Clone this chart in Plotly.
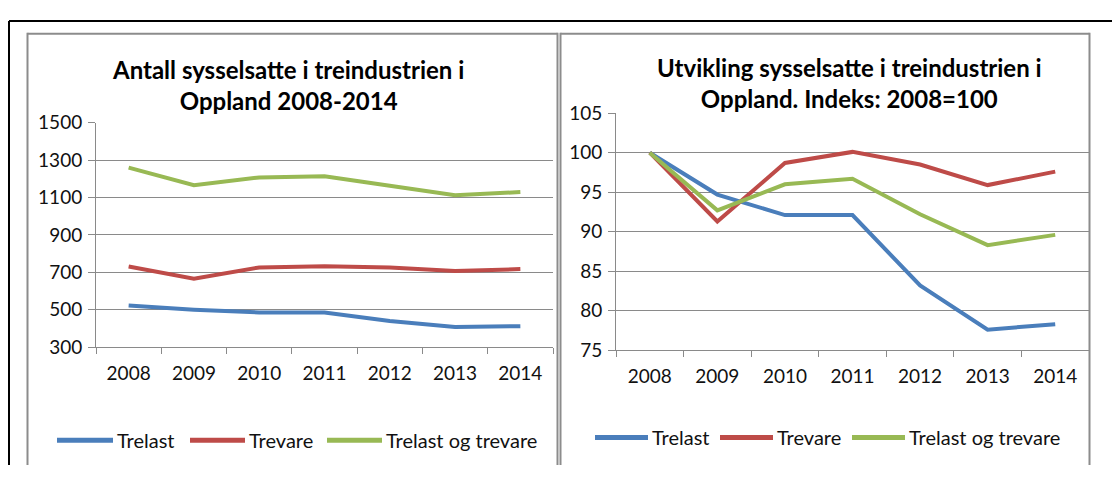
import plotly.graph_objects as go

# ---------------- data ----------------
years = ["2008", "2009", "2010", "2011", "2012", "2013", "2014"]
series_names = ["Trelast", "Trevare", "Trelast og trevare"]

count_trelast = [522, 500, 485, 485, 440, 407, 412]
count_trevare = [731, 666, 726, 732, 726, 707, 717]
count_total = [1260, 1166, 1207, 1214, 1163, 1112, 1129]

index_trelast = [100, 94.7, 92.1, 92.1, 83.2, 77.6, 78.3]
index_trevare = [100, 91.3, 98.7, 100.1, 98.5, 95.9, 97.6]
index_total = [100, 92.7, 96.0, 96.7, 92.2, 88.3, 89.6]

left_yticks = [300, 500, 700, 900, 1100, 1300, 1500]
right_yticks = [75, 80, 85, 90, 95, 100, 105]

left_title = "Antall sysselsatte i treindustrien i<br>Oppland 2008-2014"
right_title = "Utvikling sysselsatte i treindustrien i<br>Oppland. Indeks: 2008=100"

colors = ["#4a7ebb", "#be4b48", "#98b954"]

# ---------------- layout helpers ----------------
# The page body keeps the browser's default 8px margin, so the figure is
# sized to fit exactly inside the 1120x484 window and all positions below
# are given in window pixels, shifted by that margin.
OFF = 8
FW, FH = 1120 - 2 * OFF, 484 - 2 * OFF
FONT = "Lato, 'Open Sans', sans-serif"
GRID = "#8a8a8a"
BOX = "#8c8c8c"


def px(x):
    return (x - OFF) / FW


def py(y):
    return 1 - (y - OFF) / FH


fig = go.Figure()

left_series = [count_trelast, count_trevare, count_total]
right_series = [index_trelast, index_trevare, index_total]

for name, vals, col in zip(series_names, left_series, colors):
    fig.add_trace(go.Scatter(x=years, y=vals, name=name, mode="lines",
                             line=dict(color=col, width=4),
                             xaxis="x", yaxis="y", showlegend=False,
                             hoverinfo="skip"))
for name, vals, col in zip(series_names, right_series, colors):
    fig.add_trace(go.Scatter(x=years, y=vals, name=name, mode="lines",
                             line=dict(color=col, width=4),
                             xaxis="x2", yaxis="y2", showlegend=False,
                             hoverinfo="skip"))

xcommon = dict(type="category", range=[-0.5, 6.5], tickson="boundaries",
               ticks="outside", ticklen=6, tickcolor=GRID, tickwidth=1,
               showline=True, linecolor=GRID, linewidth=1, showgrid=False,
               tickfont=dict(family=FONT, size=19, color="#111"),
               ticklabelstandoff=9, fixedrange=True)
ycommon = dict(ticks="outside", ticklen=7, tickcolor=GRID, tickwidth=1,
               showline=True, linecolor=GRID, linewidth=1,
               showgrid=True, gridcolor=GRID, gridwidth=1, zeroline=False,
               tickfont=dict(family=FONT, size=19, color="#111"),
               ticklabelstandoff=2, fixedrange=True)

fig.update_layout(
    width=FW, height=FH,
    margin=dict(l=0, r=0, t=0, b=0),
    paper_bgcolor="white", plot_bgcolor="white",
    showlegend=False,
    xaxis=dict(domain=[px(96), px(553)], anchor="y", **xcommon),
    yaxis=dict(domain=[py(352), py(116)], anchor="x", range=[300, 1500],
               tickvals=left_yticks, **ycommon),
    xaxis2=dict(domain=[px(616), px(1089)], anchor="y2", **xcommon),
    yaxis2=dict(domain=[py(355.3), py(106)], anchor="x2", range=[75, 105],
                tickvals=right_yticks, **ycommon),
)


def seg(x0, y0, x1, y1, color, width):
    return dict(type="line", xref="paper", yref="paper",
                x0=max(0, px(x0)), x1=min(1, px(x1)),
                y0=min(1, py(y0)), y1=max(0, py(y1)),
                line=dict(color=color, width=width))


shapes = []
# outer black frame (top and left edges)
shapes.append(seg(9, 9, 1120, 9, "black", 2))
shapes.append(seg(9, 9, 9, 484, "black", 2))
# chart boxes (open at the bottom, running off the picture)
for left, right in [(27.5, 557.5), (560.5, 1089.5)]:
    shapes.append(seg(left, 22.5, right, 22.5, BOX, 2))
    shapes.append(seg(left, 21.5, left, 484, BOX, 2))
    shapes.append(seg(right, 21.5, right, 484, BOX, 2))

annotations = []
annotations.append(dict(xref="paper", yref="paper", x=px(288), y=py(76),
                        text=left_title, showarrow=False, xanchor="center",
                        yanchor="middle", align="center",
                        font=dict(family=FONT, size=24, color="black", weight="bold")))
annotations.append(dict(xref="paper", yref="paper", x=px(850), y=py(74),
                        text=right_title, showarrow=False, xanchor="center",
                        yanchor="middle", align="center",
                        font=dict(family=FONT, size=24, color="black", weight="bold")))

# legends (sample line + text)
legend_specs = [
    (450, [(57, 113), (190, 245), (327, 382)]),
    (447, [(595, 648), (720, 773), (852, 905)]),
]
for ly, items in legend_specs:
    for (x0, x1), name, col in zip(items, series_names, colors):
        shapes.append(seg(x0, ly, x1, ly, col, 5))
        annotations.append(dict(xref="paper", yref="paper", x=px(x1 + 2), y=py(ly),
                                text=name, showarrow=False, xanchor="left",
                                yanchor="middle",
                                font=dict(family=FONT, size=20, color="#111")))

fig.update_layout(shapes=shapes, annotations=annotations)

fig.write_html("out.html", config={"displayModeBar": False})
